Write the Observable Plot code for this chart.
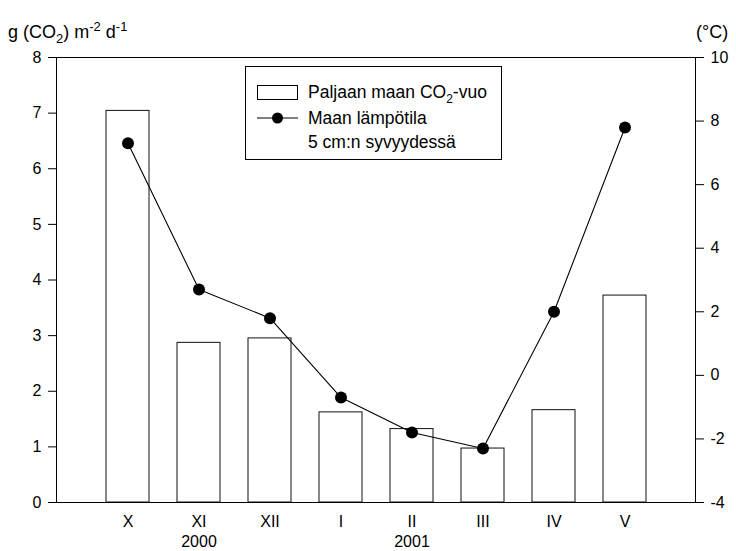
<!DOCTYPE html>
<html>
<head>
<meta charset="utf-8">
<script src="https://cdn.jsdelivr.net/npm/d3@7"></script>
<script src="https://cdn.jsdelivr.net/npm/@observablehq/plot@0.6"></script>
<style>
  html, body { margin: 0; padding: 0; background: #fff; }
  #wrap { position: relative; width: 736px; height: 551px; font-family: "Liberation Sans", Arial, sans-serif; color: #000; }
  #wrap > svg { position: absolute; left: 0; top: 0; }
  .lbl { position: absolute; font-size: 18px; white-space: nowrap; line-height: 1; }
  .lbl sub { font-size: 13px; line-height: 0; vertical-align: -5px; }
  .lbl sup { font-size: 13px; line-height: 0; vertical-align: 7px; }
  #legend { position: absolute; left: 245px; top: 66px; width: 255px; height: 92px; border: 1px solid #000; background: #fff; font-size: 17.5px; }
  #legend .txt { position: absolute; left: 62px; white-space: nowrap; line-height: 1; }
  #legend .txt sub { font-size: 12px; line-height: 0; vertical-align: -5px; }
  #legend svg { position: absolute; left: 11px; }
</style>
</head>
<body>
<div id="wrap"></div>
<script>
// ---- data ----
const months = ["X", "XI", "XII", "I", "II", "III", "IV", "V"];
const co2 = [7.04, 2.87, 2.95, 1.62, 1.32, 0.97, 1.66, 3.72];      // g CO2 m-2 d-1
const temp = [7.3, 2.7, 1.8, -0.7, -1.8, -2.3, 2.0, 7.8];          // °C at 5 cm
const leftTicks = [0, 1, 2, 3, 4, 5, 6, 7, 8];
const rightTicks = [-4, -2, 0, 2, 4, 6, 8, 10];
const yearLabels = ["2000", "2001"];
const yearAt = ["XI", "II"];

// map temperature domain [-4, 10] onto left domain [0, 8]
const tMin = -4, tMax = 10, yMax = 8;
const toLeft = t => (t - tMin) * yMax / (tMax - tMin);
const toTemp = v => Math.round(v * (tMax - tMin) / yMax + tMin);

const rows = months.map((m, i) => ({month: m, co2: co2[i], temp: temp[i], tY: toLeft(temp[i])}));

const chart = Plot.plot({
  width: 736,
  height: 551,
  marginLeft: 56,
  marginRight: 41,
  marginTop: 57,
  marginBottom: 49,
  style: {fontFamily: "'Liberation Sans', Arial, sans-serif", fontSize: "16px", color: "#000", background: "transparent"},
  x: {type: "band", domain: months, paddingInner: 0.4, paddingOuter: 0.7},
  y: {domain: [0, yMax]},
  marks: [
    Plot.barY(rows, {x: "month", y: "co2", fill: "white", stroke: "#111", strokeWidth: 1}),
    Plot.frame({stroke: "#000", strokeWidth: 1}),
    Plot.lineY(rows, {x: "month", y: "tY", stroke: "#000", strokeWidth: 1.1}),
    Plot.dot(rows, {x: "month", y: "tY", r: 6, fill: "#000", stroke: "none"}),
    Plot.axisY(leftTicks, {anchor: "left", tickSize: 8, tickPadding: 7, label: null, tickFormat: d => String(d)}),
    Plot.axisY(rightTicks.map(toLeft), {anchor: "right", tickSize: 8, tickPadding: 7, label: null, tickFormat: d => String(toTemp(d))}),
    Plot.axisX({tickSize: 0, tickPadding: 13, label: null}),
    Plot.text(yearAt, {x: d => d, text: (d, i) => yearLabels[i], frameAnchor: "bottom", dy: 44, fontSize: 16})
  ]
});

const wrap = document.getElementById("wrap");
wrap.appendChild(chart);

const leftTitle = document.createElement("div");
leftTitle.className = "lbl";
leftTitle.style.left = "8px";
leftTitle.style.top = "23px";
leftTitle.innerHTML = "g (CO<sub>2</sub>) m<sup>-2</sup> d<sup>-1</sup>";
wrap.appendChild(leftTitle);

const rightTitle = document.createElement("div");
rightTitle.className = "lbl";
rightTitle.style.left = "696px";
rightTitle.style.top = "23px";
rightTitle.textContent = "(°C)";
wrap.appendChild(rightTitle);

// legend
const legend = document.createElement("div");
legend.id = "legend";
legend.innerHTML = `
  <svg width="42" height="16" style="top:18px;"><rect x="0.5" y="0.5" width="40" height="14" fill="white" stroke="#000"/></svg>
  <div class="txt" style="top:17px;">Paljaan maan CO<sub>2</sub>-vuo</div>
  <svg width="42" height="14" style="top:44px;"><line x1="0" y1="7" x2="41" y2="7" stroke="#000"/><circle cx="20.5" cy="7" r="5.5" fill="#000"/></svg>
  <div class="txt" style="top:43px;">Maan lämpötila</div>
  <div class="txt" style="top:67px;">5 cm:n syvyydessä</div>`;
wrap.appendChild(legend);
</script>
</body>
</html>
